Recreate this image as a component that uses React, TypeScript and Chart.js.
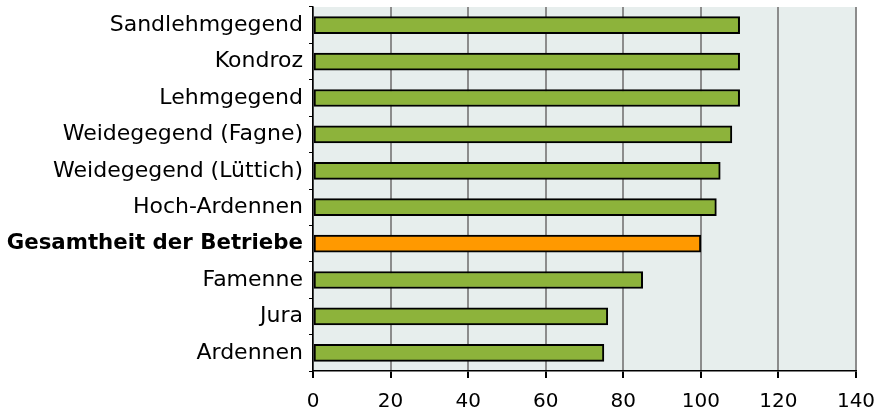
import React, { useEffect, useRef } from "react";
import { Chart, registerables } from "chart.js";

Chart.register(...registerables);

const categories = [
  "Sandlehmgegend",
  "Kondroz",
  "Lehmgegend",
  "Weidegegend (Fagne)",
  "Weidegegend (Lüttich)",
  "Hoch-Ardennen",
  "Gesamtheit der Betriebe",
  "Famenne",
  "Jura",
  "Ardennen",
];
const values = [110, 110, 110, 108, 105, 104, 100, 85, 76, 75];
const highlightIndex = 6;
const xTicks = [0, 20, 40, 60, 80, 100, 120, 140];

const GREEN = "#8db33b";
const ORANGE = "#ff9900";
const PLOT_BG = "#e7eeed";

const bgPlugin = {
  id: "plotBg",
  beforeDraw(chart: any) {
    const { ctx, chartArea } = chart;
    if (!chartArea) return;
    ctx.save();
    ctx.fillStyle = PLOT_BG;
    ctx.fillRect(chartArea.left, chartArea.top, chartArea.right - chartArea.left, chartArea.bottom - chartArea.top);
    ctx.restore();
  },
};

export default function App() {
  const ref = useRef<HTMLCanvasElement>(null);
  useEffect(() => {
    if (!ref.current) return;
    const chart = new Chart(ref.current, {
      type: "bar",
      data: {
        labels: categories,
        datasets: [
          {
            data: values,
            backgroundColor: values.map((_, i) => (i === highlightIndex ? ORANGE : GREEN)),
            borderColor: "#000",
            borderWidth: 2,
            borderSkipped: false,
            barThickness: 17,
          },
        ],
      },
      options: {
        indexAxis: "y",
        animation: false,
        responsive: false,
        maintainAspectRatio: false,
        layout: { padding: { top: 7, right: 29, left: 0, bottom: 0 } },
        plugins: { legend: { display: false }, tooltip: { enabled: false } },
        scales: {
          x: {
            min: 0,
            max: 140,
            afterBuildTicks(scale: any) {
              scale.ticks = xTicks.map((v) => ({ value: v }));
            },
            afterFit(scale: any) {
              scale.height = 38;
              scale.paddingLeft = 0;
              scale.paddingRight = 0;
            },
            grid: {
              color: "#8c8c8c",
              lineWidth: 2,
              tickColor: "#000",
              tickLength: 7,
            },
            border: { color: "#000", width: 1.5 },
            ticks: {
              color: "#000",
              font: { family: "DejaVu Sans", size: 20 },
              padding: 12,
            },
          },
          y: {
            afterFit(scale: any) {
              scale.width = 313;
              scale.paddingTop = 0;
              scale.paddingBottom = 0;
            },
            grid: {
              drawOnChartArea: false,
              tickColor: "#000",
              tickLength: 4,
              offset: true,
            },
            border: { color: "#000", width: 1.5 },
            ticks: {
              color: "#000",
              padding: 6,
              font: (ctx: any) =>
                ctx.index === highlightIndex
                  ? { family: "DejaVu Sans", size: 21.3, weight: "bold" }
                  : { family: "DejaVu Sans", size: 22, weight: "normal" },
            },
          },
        },
      },
      plugins: [bgPlugin],
    } as any);
    return () => chart.destroy();
  }, []);
  return (
    <div style={{ position: "fixed", left: 0, top: 0, width: 885, height: 409, background: "#fff" }}>
      <canvas ref={ref} width={885} height={409} style={{ width: 885, height: 409 }} />
    </div>
  );
}
